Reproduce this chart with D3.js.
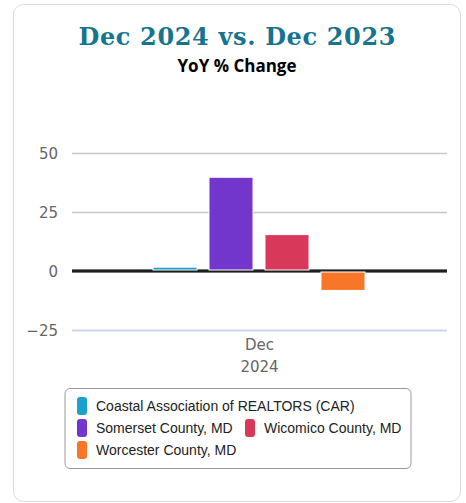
<!DOCTYPE html>
<html lang="en">
<head>
<meta charset="UTF-8">
<title>Dec 2024 vs. Dec 2023</title>
<script src="https://cdn.jsdelivr.net/npm/d3@7"></script>
<style>
    body { margin: 0; background: #fff; }
    svg { display: block; }
</style>
</head>
<body>
<div id="chart"></div>
<script>
    // data
    var series = ['Coastal Association of REALTORS (CAR)', 'Somerset County, MD', 'Wicomico County, MD', 'Worcester County, MD'];
    var values = [1.2, 39.3, 15.0, -7.8];
    var colors = ['#1ba1cd', '#7236cc', '#d8385a', '#f77627'];
    var categories = ['Dec 2024'];
    var yTicks = [-25, 0, 25, 50];

    var width = 466, height = 503;
    var svg = d3.select('#chart').append('svg')
        .attr('width', width)
        .attr('height', height);

    // card
    svg.append('rect')
        .attr('x', 13.5).attr('y', 4.5)
        .attr('width', 447).attr('height', 497)
        .attr('rx', 10)
        .attr('fill', '#fff')
        .attr('stroke', '#dcdcdc');

    svg.append('text')
        .attr('x', 237).attr('y', 45)
        .attr('text-anchor', 'middle')
        .attr('font-family', 'DejaVu Serif')
        .attr('font-weight', 'bold')
        .attr('font-size', 24)
        .attr('fill', '#17748f')
        .attr('textLength', 317)
        .text('Dec 2024 vs. Dec 2023');

    svg.append('text')
        .attr('x', 237).attr('y', 72)
        .attr('text-anchor', 'middle')
        .attr('font-family', 'Open Sans')
        .attr('font-weight', 'bold')
        .attr('font-size', 17)
        .attr('fill', '#000')
        .text('YoY % Change');

    var left = 72, right = 447;
    var y = d3.scaleLinear().domain([-25, 50]).range([330, 153]);
    var x = d3.scaleBand().domain(categories).range([left, right]);
    var xs = d3.scaleBand().domain(series).range([153, 365]).paddingInner(0.214).paddingOuter(0);

    // grid
    svg.append('g').selectAll('line')
        .data(yTicks)
        .join('line')
        .attr('x1', left).attr('x2', right)
        .attr('y1', d => y(d) + 0.5).attr('y2', d => y(d) + 0.5)
        .attr('stroke', d => d === -25 ? '#ccd6eb' : '#c8c8c8')
        .attr('stroke-width', d => d === -25 ? 2 : 1.5);

    // zero line
    svg.append('line')
        .attr('x1', left).attr('x2', right)
        .attr('y1', y(0)).attr('y2', y(0))
        .attr('stroke', '#777').attr('stroke-width', 4);
    svg.append('line')
        .attr('x1', left).attr('x2', right)
        .attr('y1', y(0)).attr('y2', y(0))
        .attr('stroke', '#000').attr('stroke-width', 1.5);

    // y axis labels
    svg.append('g').selectAll('text')
        .data(yTicks)
        .join('text')
        .attr('x', 58)
        .attr('y', d => y(d) + 6)
        .attr('text-anchor', 'end')
        .attr('font-family', 'DejaVu Sans')
        .attr('font-size', 15)
        .attr('fill', '#666')
        .text(d => d < 0 ? '\u2212' + Math.abs(d) : d);

    // bars
    svg.append('g').selectAll('rect')
        .data(values)
        .join('rect')
        .attr('x', (d, i) => xs(series[i]))
        .attr('width', xs.bandwidth())
        .attr('y', d => y(Math.max(0, d)) - (d >= 0 ? 1 : -1))
        .attr('height', d => Math.abs(y(d) - y(0)))
        .attr('fill', (d, i) => colors[i])
        .attr('stroke', '#fff')
        .attr('stroke-width', 1);

    // x label
    var xl = svg.append('text')
        .attr('text-anchor', 'middle')
        .attr('font-family', 'DejaVu Sans')
        .attr('font-size', 15)
        .attr('fill', '#666');
    categories[0].split(' ').forEach(function(t, i) {
        xl.append('tspan')
            .attr('x', x(categories[0]) + x.bandwidth() / 2)
            .attr('y', 350 + i * 22)
            .text(t);
    });

    // legend
    var lg = svg.append('g');
    lg.append('rect')
        .attr('x', 65).attr('y', 388.5)
        .attr('width', 346).attr('height', 80)
        .attr('rx', 5)
        .attr('fill', '#fff')
        .attr('stroke', '#999');
    var pos = [[77, 397], [77, 419], [245, 419], [77, 441]];
    series.forEach(function(s, i) {
        lg.append('rect')
            .attr('x', pos[i][0]).attr('y', pos[i][1])
            .attr('width', 10).attr('height', 18)
            .attr('rx', 3)
            .attr('fill', colors[i]);
        lg.append('text')
            .attr('x', pos[i][0] + 19)
            .attr('y', pos[i][1] + 14)
            .attr('font-family', 'Liberation Sans')
            .attr('font-size', 14)
            .attr('fill', '#222')
            .text(s);
    });
</script>
</body>
</html>
